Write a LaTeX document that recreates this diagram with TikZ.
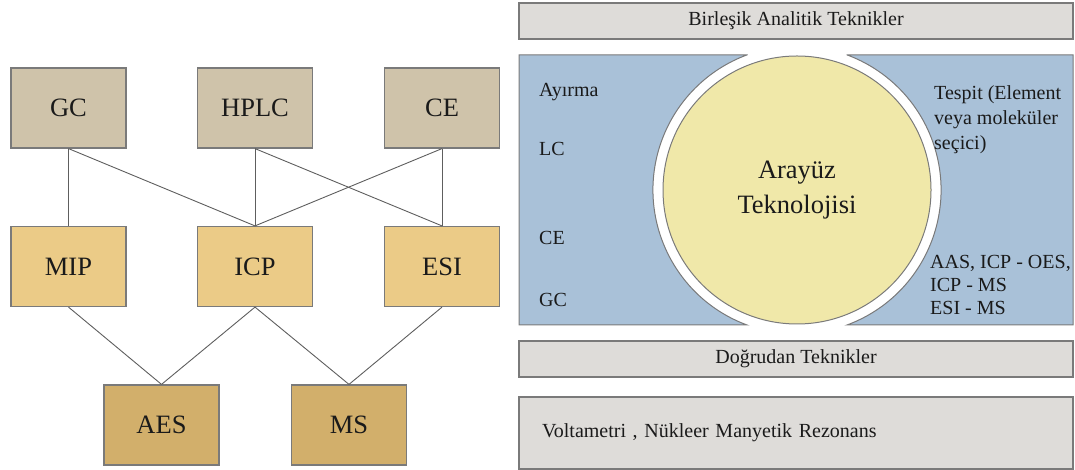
\documentclass[tikz,border=0pt]{standalone}
\usepackage{fontspec}
\setmainfont{Liberation Serif}
\definecolor{topc}{HTML}{CFC3AA}
\definecolor{midc}{HTML}{EBCB87}
\definecolor{botc}{HTML}{D2AF6B}
\definecolor{bluec}{HTML}{A9C1D8}
\definecolor{yelc}{HTML}{F0E8A9}
\definecolor{barc}{HTML}{DEDCD9}
\definecolor{edgec}{HTML}{7A7A7A}
\definecolor{linec}{HTML}{5E5E5E}
\definecolor{txtc}{HTML}{1A1A1A}
\begin{document}
\begin{tikzpicture}[x=1pt,y=1pt,
  box/.style={draw=edgec, line width=1.2pt, minimum width=115pt, minimum height=80pt,
    inner sep=0pt, text=txtc, font=\fontsize{26.5}{30}\selectfont},
  link/.style={draw=linec, line width=0.9pt},
  bar/.style={draw=edgec, line width=1.2pt, fill=barc, minimum width=554pt, minimum height=36pt,
    inner sep=0pt, text=txtc, font=\fontsize{20}{24}\selectfont},
  lbl/.style={inner sep=0pt, text=txtc, font=\fontsize{20}{25}\selectfont},
  lbltwo/.style={inner sep=0pt, text=txtc, font=\fontsize{20}{23}\selectfont},
  panel/.style={fill=bluec, draw=edgec, line width=1pt}]
\useasboundingbox (0,0) rectangle (1075,470);

% left graph
\node[box, fill=topc] (gc)   at (68.5,362) {GC};
\node[box, fill=topc] (hplc) at (255,362) {HPLC};
\node[box, fill=topc] (ce)   at (442,362) {CE};
\node[box, fill=midc] (mip)  at (68.5,203.5) {MIP};
\node[box, fill=midc] (icp)  at (255,203.5) {ICP};
\node[box, fill=midc] (esi)  at (442,203.5) {ESI};
\node[box, fill=botc] (aes)  at (161.5,45) {AES};
\node[box, fill=botc] (ms)   at (349,45) {MS};

\draw[link] (gc.south) -- (mip.north);
\draw[link] (gc.south) -- (icp.north);
\draw[link] (hplc.south) -- (icp.north);
\draw[link] (hplc.south) -- (esi.north);
\draw[link] (ce.south) -- (icp.north);
\draw[link] (ce.south) -- (esi.north);
\draw[link] (mip.south) -- (aes.north);
\draw[link] (icp.south) -- (aes.north);
\draw[link] (icp.south) -- (ms.north);
\draw[link] (esi.south) -- (ms.north);

% right panel
\node[bar] (birl) at (796,449) {Birleşik Analitik Teknikler};
\path[panel] (747,415) -- (519,415) -- (519,145) -- (747,145)
  arc[start angle=249.7, end angle=110.3, radius=144] -- cycle;
\path[panel] (847,415) -- (1073,415) -- (1073,145) -- (847,145)
  arc[start angle=-69.7, end angle=69.7, radius=144] -- cycle;
\node[circle, fill=yelc, draw=edgec, line width=1pt, minimum size=268pt, inner sep=0pt,
  align=center, text=txtc, font=\fontsize{26.5}{35}\selectfont] (iface) at (797,280) {Arayüz\\Teknolojisi};

\node[lbl, anchor=west] (ayr) at (539,378) {Ayırma};
\node[lbl, anchor=west] (lc) at (539,321) {LC};
\node[lbl, anchor=west] (ce2) at (539,232) {CE};
\node[lbl, anchor=west] (gc2) at (539,170) {GC};
\node[lbl, anchor=north west, align=left] (tesp) at (934,385) {Tespit (Element\\veya moleküler\\seçici)};
\node[lbltwo, anchor=north west, align=left] (aas) at (930,215) {AAS, ICP - OES,\\ICP - MS\\ESI - MS};

\node[bar] (dogr) at (796,111) {Doğrudan Teknikler};
\node[bar, minimum height=72pt, text width=508pt, align=left] (volt) at (796,37)
  {Voltametri , Nükleer Manyetik Rezonans};
\end{tikzpicture}
\end{document}
